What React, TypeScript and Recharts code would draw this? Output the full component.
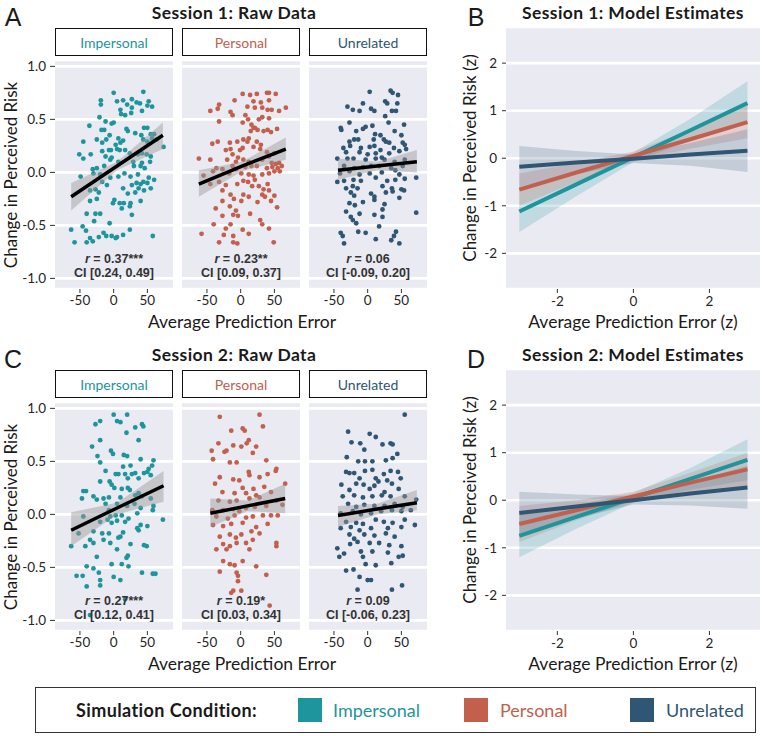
import React from 'react';
import { ComposedChart, Scatter, Line, Area, XAxis, YAxis, CartesianGrid } from 'recharts';

type Pt = [number, number];
type Fit = [number, number, number, number]; // x, y, lo, hi
type Est = [number, number, number]; // y, lo, hi

const CONDITIONS = ['Impersonal', 'Personal', 'Unrelated'];
const COLORS = ['#1e959c', '#c2604d', '#2f5673'];
const RAW_X_TICKS = [-50, 0, 50];
const RAW_Y_TICKS = [-1, -0.5, 0, 0.5, 1];
const Z_X_TICKS = [-2, 0, 2];
const Z_Y_TICKS = [-2, -1, 0, 1, 2];
const Z_X = [-3, -1.5, 0, 1.5, 3];

// session 1 raw data (prediction error, change in risk)
const s1Impersonal: Pt[] = [[0,0.75],[44,0.76],[27,0.69],[-19,0.68],[5,0.67],[14,0.68],[34,0.66],[39,0.65],[52,0.67],[-19,0.64],[20,0.64],[50,0.63],[57,0.62],[27,0.61],[10,0.59],[-21,0.52],[42,0.58],[11,0.55],[-12,0.48],[0,0.47],[-3,0.46],[26,0.56],[17,0.54],[-36,0.44],[-14,0.4],[19,0.41],[21,0.39],[-6,0.35],[7,0.32],[-18,0.4],[45,0.42],[50,0.42],[41,0.35],[55,0.36],[60,0.36],[32,0.37],[-25,0.31],[-11,0.31],[-45,0.29],[-17,0.28],[14,0.3],[3,0.26],[10,0.28],[44,0.31],[50,0.29],[57,0.32],[64,0.31],[74,0.24],[-51,0.17],[-45,0.13],[-34,0.17],[-17,0.2],[-7,0.21],[-4,0.21],[9,0.21],[5,0.22],[-12,0.15],[-3,0.14],[17,0.21],[24,0.18],[36,0.17],[42,0.18],[49,0.17],[55,0.15],[54,0.1],[-5,0.12],[7,0.1],[-25,0.04],[-31,0.03],[-14,0.06],[29,0.1],[30,0.06],[40,0.06],[42,0.09],[46,0.04],[-49,-0.04],[-30,-0.01],[-20,-0.02],[-5,-0.05],[7,-0.04],[16,-0.01],[25,-0.04],[36,-0.02],[52,-0.05],[60,-0.07],[-17,-0.09],[-10,-0.12],[27,-0.12],[34,-0.1],[40,-0.11],[44,-0.09],[50,-0.1],[14,-0.15],[-35,-0.17],[-27,-0.16],[-22,-0.19],[37,-0.15],[45,-0.17],[55,-0.15],[21,-0.2],[32,-0.19],[-35,-0.27],[-25,-0.25],[1,-0.26],[-1,-0.29],[9,-0.29],[15,-0.29],[25,-0.29],[12,-0.34],[24,-0.32],[40,-0.27],[-40,-0.39],[-27,-0.39],[-20,-0.39],[27,-0.4],[-29,-0.46],[-6,-0.48],[-46,-0.51],[-41,-0.55],[-63,-0.54],[24,-0.54],[-15,-0.57],[-11,-0.6],[-3,-0.6],[5,-0.61],[14,-0.59],[-22,-0.61],[-35,-0.62],[-31,-0.65],[-40,-0.66],[-58,-0.66],[58,-0.6],[3,-0.62]];
const s1Personal: Pt[] = [[3,0.74],[14,0.73],[24,0.74],[39,0.75],[42,0.75],[52,0.74],[-9,0.68],[19,0.67],[30,0.66],[42,0.68],[-32,0.64],[-45,0.58],[-34,0.6],[-15,0.57],[10,0.62],[21,0.61],[32,0.61],[40,0.59],[46,0.59],[67,0.61],[57,0.58],[-12,0.54],[7,0.54],[11,0.5],[27,0.5],[-32,0.48],[3,0.47],[32,0.52],[42,0.51],[16,0.45],[21,0.42],[25,0.4],[15,0.39],[19,0.42],[54,0.41],[12,0.32],[34,0.39],[40,0.4],[45,0.38],[-42,0.27],[-34,0.29],[-16,0.28],[-5,0.29],[4,0.31],[10,0.29],[24,0.29],[30,0.26],[-22,0.21],[-15,0.22],[-1,0.21],[3,0.23],[-12,0.17],[-4,0.14],[19,0.24],[29,0.22],[39,0.19],[42,0.15],[50,0.18],[-62,0.13],[-45,0.12],[-20,0.12],[-7,0.1],[4,0.12],[12,0.1],[32,0.12],[46,0.09],[52,0.08],[57,0.09],[61,0.06],[-36,0.04],[-27,0.03],[-12,0.06],[7,0.05],[16,0.06],[24,0.06],[39,0.04],[47,0.05],[55,0.04],[-55,-0.03],[-41,0.01],[-7,0.03],[-17,-0.01],[1,-0.01],[12,-0.02],[19,-0.03],[32,-0.02],[42,-0.01],[50,0.01],[58,0.01],[21,-0.07],[4,-0.08],[11,-0.09],[-45,-0.11],[-32,-0.09],[-22,-0.12],[-5,-0.11],[17,-0.13],[27,-0.13],[40,-0.11],[-27,-0.17],[34,-0.16],[32,-0.21],[42,-0.17],[-15,-0.21],[4,-0.21],[-10,-0.25],[12,-0.23],[36,-0.23],[50,-0.22],[-27,-0.27],[-16,-0.32],[1,-0.27],[25,-0.28],[45,-0.27],[-37,-0.34],[-7,-0.36],[54,-0.33],[-27,-0.41],[-11,-0.4],[-4,-0.41],[14,-0.39],[29,-0.45],[-40,-0.49],[-15,-0.49],[32,-0.49],[-22,-0.53],[3,-0.54],[42,-0.53],[-58,-0.58],[-25,-0.59],[-11,-0.6],[12,-0.58],[-32,-0.66],[-11,-0.66],[-5,-0.67],[49,-0.66]];
const s1Unrelated: Pt[] = [[3,0.76],[34,0.77],[37,0.75],[45,0.73],[-7,0.65],[26,0.67],[29,0.65],[-30,0.62],[-22,0.59],[-12,0.58],[5,0.6],[10,0.58],[44,0.65],[36,0.58],[42,0.58],[26,0.53],[-27,0.47],[-3,0.43],[7,0.44],[31,0.47],[54,0.45],[-40,0.42],[-39,0.4],[-17,0.39],[-7,0.41],[11,0.36],[19,0.35],[40,0.39],[50,0.35],[-20,0.31],[-14,0.31],[9,0.31],[24,0.31],[27,0.29],[32,0.28],[-27,0.29],[-36,0.23],[-26,0.25],[-10,0.23],[3,0.24],[10,0.25],[19,0.21],[39,0.23],[52,0.28],[55,0.26],[57,0.22],[-32,0.19],[-12,0.19],[0,0.17],[12,0.18],[32,0.18],[47,0.2],[-45,0.13],[-30,0.13],[-21,0.13],[-3,0.12],[12,0.13],[21,0.14],[25,0.12],[40,0.1],[55,0.12],[-35,0.06],[-20,0.04],[-7,0.05],[5,0.06],[17,0.06],[35,0.04],[52,0.06],[-41,-0.01],[-27,0.01],[-12,-0.02],[3,-0.01],[21,0],[41,0.02],[47,-0.02],[-45,-0.09],[-35,-0.08],[-21,-0.07],[-10,-0.08],[12,-0.05],[29,-0.08],[41,-0.07],[55,-0.06],[72,-0.05],[-32,-0.15],[-22,-0.13],[-15,-0.15],[22,-0.13],[36,-0.15],[50,-0.16],[-25,-0.19],[-20,-0.22],[5,-0.2],[10,-0.23],[27,-0.19],[37,-0.18],[54,-0.17],[-27,-0.29],[-19,-0.31],[-7,-0.28],[10,-0.26],[25,-0.3],[47,-0.24],[-32,-0.37],[-12,-0.39],[10,-0.4],[22,-0.35],[72,-0.38],[-22,-0.45],[-25,-0.42],[-17,-0.48],[22,-0.42],[17,-0.51],[-14,-0.56],[-40,-0.57],[-3,-0.57],[42,-0.56],[-35,-0.67],[-37,-0.6],[12,-0.63],[35,-0.64],[47,-0.67],[39,-0.6]];

// session 2 raw data
const s2Impersonal: Pt[] = [[0,0.94],[20,0.94],[-27,0.85],[-20,0.88],[5,0.88],[10,0.87],[42,0.85],[44,0.83],[32,0.82],[19,0.77],[-20,0.7],[37,0.7],[-32,0.64],[-4,0.6],[-1,0.57],[-24,0.55],[15,0.56],[20,0.55],[-20,0.49],[40,0.52],[59,0.51],[14,0.45],[25,0.46],[57,0.46],[52,0.43],[50,0.4],[-12,0.41],[3,0.38],[7,0.38],[17,0.38],[27,0.38],[32,0.39],[45,0.39],[21,0.34],[37,0.34],[55,0.37],[-20,0.31],[-6,0.31],[-41,0.22],[-45,0.22],[-3,0.28],[1,0.25],[12,0.24],[21,0.25],[24,0.23],[-30,0.17],[-25,0.14],[-15,0.15],[-7,0.16],[-47,0.15],[32,0.18],[37,0.2],[42,0.17],[10,0.16],[55,0.15],[59,0.08],[58,0.04],[-12,0.1],[5,0.1],[20,0.08],[31,0.1],[40,0.06],[-45,-0.02],[-7,0.04],[-5,-0.02],[3,-0.01],[12,-0.01],[22,-0.04],[35,0.01],[73,-0.05],[-20,-0.07],[-9,-0.05],[-3,-0.08],[5,-0.06],[17,-0.07],[40,-0.1],[50,-0.11],[-52,-0.18],[-30,-0.16],[-17,-0.18],[-7,-0.18],[10,-0.21],[14,-0.17],[35,-0.13],[37,-0.15],[-35,-0.24],[-30,-0.27],[-15,-0.24],[-5,-0.27],[7,-0.22],[-63,-0.3],[-42,-0.3],[25,-0.28],[45,-0.29],[49,-0.3],[5,-0.33],[19,-0.41],[21,-0.39],[-25,-0.4],[-40,-0.49],[-3,-0.47],[12,-0.47],[-55,-0.58],[-46,-0.58],[-30,-0.51],[-22,-0.55],[-20,-0.62],[0,-0.59],[22,-0.49],[42,-0.55],[58,-0.56],[62,-0.56],[-40,-0.68],[-20,-0.67],[10,-0.62],[17,-0.8],[-35,-0.95]];
const s2Personal: Pt[] = [[-31,0.92],[28,0.94],[-14,0.79],[3,0.81],[6,0.79],[33,0.83],[-33,0.67],[-11,0.65],[1,0.64],[12,0.7],[9,0.67],[23,0.64],[-43,0.6],[-21,0.6],[-24,0.59],[-41,0.52],[18,0.58],[38,0.51],[-16,0.49],[-6,0.49],[53,0.43],[52,0.41],[-31,0.35],[-11,0.33],[-2,0.32],[12,0.4],[13,0.37],[28,0.35],[40,0.38],[66,0.29],[-38,0.29],[3,0.25],[19,0.24],[35,0.26],[-27,0.21],[-9,0.2],[8,0.2],[23,0.18],[45,0.21],[-33,0.13],[-16,0.12],[-6,0.13],[13,0.15],[28,0.16],[53,0.13],[62,0.09],[-42,0.04],[-26,0.04],[-11,0.05],[-2,0.03],[8,0.06],[21,0.07],[38,0.08],[55,-0.01],[-36,-0.02],[-19,-0.04],[-9,-0.01],[8,-0.03],[18,-0.02],[33,-0.01],[45,-0.01],[-41,-0.1],[-26,-0.11],[-14,-0.09],[3,-0.08],[23,-0.12],[40,-0.09],[16,-0.16],[-16,-0.19],[-31,-0.21],[-7,-0.22],[1,-0.19],[28,-0.18],[-26,-0.28],[-16,-0.3],[-6,-0.27],[8,-0.27],[18,-0.24],[53,-0.27],[53,-0.3],[-36,-0.33],[-21,-0.33],[13,-0.33],[-26,-0.44],[-16,-0.47],[-9,-0.48],[3,-0.44],[23,-0.49],[-31,-0.54],[-6,-0.55],[-4,-0.58],[38,-0.57],[-4,-0.63],[-11,-0.72],[-14,-0.74],[1,-0.72],[43,-0.86]];
const s2Unrelated: Pt[] = [[55,0.94],[-29,0.78],[3,0.76],[12,0.73],[-24,0.68],[-11,0.67],[-5,0.61],[22,0.66],[34,0.67],[37,0.66],[44,0.57],[-31,0.54],[-14,0.5],[-4,0.5],[7,0.5],[27,0.51],[37,0.53],[-32,0.4],[-27,0.39],[-20,0.39],[-4,0.41],[7,0.42],[24,0.38],[34,0.41],[45,0.4],[-12,0.34],[12,0.34],[29,0.32],[49,0.34],[-39,0.28],[-17,0.29],[-6,0.28],[10,0.27],[16,0.31],[36,0.29],[-27,0.23],[3,0.24],[25,0.21],[46,0.24],[-37,0.17],[-20,0.18],[-7,0.16],[7,0.17],[21,0.18],[34,0.17],[55,0.17],[72,0.14],[-29,0.1],[-17,0.07],[-5,0.09],[10,0.08],[25,0.08],[40,0.1],[52,0.07],[-40,0.01],[-22,0.03],[-10,0],[5,0.01],[20,0.03],[36,0.04],[50,0.03],[64,0.04],[-32,-0.07],[-17,-0.08],[-7,-0.09],[12,-0.05],[24,-0.07],[37,-0.08],[55,-0.05],[70,-0.1],[-40,-0.13],[-25,-0.12],[-12,-0.15],[5,-0.13],[30,-0.13],[50,-0.12],[-27,-0.19],[-20,-0.23],[-5,-0.19],[10,-0.2],[27,-0.18],[40,-0.21],[-26,-0.28],[-15,-0.26],[3,-0.27],[17,-0.27],[32,-0.29],[50,-0.3],[-45,-0.32],[-35,-0.37],[-10,-0.35],[7,-0.35],[30,-0.36],[46,-0.4],[52,-0.39],[-42,-0.4],[-7,-0.4],[-3,-0.47],[12,-0.48],[35,-0.46],[-32,-0.53],[-21,-0.52],[-12,-0.59],[5,-0.62],[0,-0.62],[-15,-0.71],[36,-0.71],[51,-0.67]];

// linear fits with confidence band
const s1Fits: Fit[][] = [
  [[-63, -0.23, -0.36, -0.1], [5, 0.06, 0.02, 0.1], [73, 0.35, 0.22, 0.47]],
  [[-62, -0.11, -0.23, 0.02], [2, 0.06, 0.01, 0.1], [67, 0.22, 0.12, 0.33]],
  [[-44, 0.02, -0.07, 0.13], [14, 0.06, 0.02, 0.1], [73, 0.1, 0.0, 0.21]],
];
const s2Fits: Fit[][] = [
  [[-63, -0.15, -0.3, 0.02], [5, 0.06, 0.0, 0.11], [74, 0.27, 0.12, 0.41]],
  [[-45, 0.01, -0.12, 0.15], [10, 0.08, 0.03, 0.13], [66, 0.15, 0.01, 0.29]],
  [[-44, -0.01, -0.12, 0.08], [14, 0.05, 0.0, 0.1], [73, 0.11, 0.04, 0.23]],
];
const s1R = ['0.37***', '0.23**', '0.06'];
const s1CI = ['CI [0.24, 0.49]', 'CI [0.09, 0.37]', 'CI [-0.09, 0.20]'];
const s2R = ['0.27***', '0.19*', '0.09'];
const s2CI = ['CI [0.12, 0.41]', 'CI [0.03, 0.34]', 'CI [-0.06, 0.23]'];

// model estimates at Z_X
const s1Model: Est[][] = [
  [[-1.12, -1.55, -0.69], [-0.55, -0.8, -0.31], [0.02, -0.08, 0.12], [0.59, 0.36, 0.83], [1.16, 0.72, 1.62]],
  [[-0.66, -1.0, -0.32], [-0.3, -0.5, -0.1], [0.05, -0.04, 0.14], [0.4, 0.2, 0.6], [0.76, 0.42, 1.1]],
  [[-0.18, -0.62, 0.26], [-0.09, -0.33, 0.15], [-0.01, -0.1, 0.08], [0.08, -0.16, 0.32], [0.16, -0.29, 0.61]],
];
const s2Model: Est[][] = [
  [[-0.75, -1.2, -0.3], [-0.35, -0.6, -0.1], [0.05, -0.05, 0.15], [0.45, 0.22, 0.68], [0.85, 0.42, 1.28]],
  [[-0.5, -0.88, -0.12], [-0.21, -0.42, 0.0], [0.08, -0.02, 0.18], [0.37, 0.16, 0.58], [0.65, 0.3, 1.0]],
  [[-0.27, -0.72, 0.18], [-0.13, -0.38, 0.12], [0.0, -0.09, 0.09], [0.14, -0.11, 0.39], [0.27, -0.18, 0.72]],
];

const FONT = 'Lato, "Open Sans", sans-serif';
const SANS = '"Liberation Sans", Arial, sans-serif';
const BG = '#EAEAF2';
const PANEL_LEFT = [55, 182, 309];
const PANEL_W = 118;
const tickStyle = { fill: '#262626', fontSize: 13.5, fontFamily: FONT };

function Txt({ x, y, size, weight = 400, color = '#1a1a1a', rotate = false, anchor = 'middle', family = FONT, spacing = 0, children }: any) {
  const tx = anchor === 'start' ? '0' : '-50%';
  return (
    <div
      style={{
        position: 'absolute', left: x, top: y, fontSize: size, fontWeight: weight, color,
        fontFamily: family, whiteSpace: 'nowrap', lineHeight: 1, letterSpacing: spacing,
        transform: `translate(${tx},-50%)${rotate ? ' rotate(-90deg)' : ''}`,
      }}
    >
      {children}
    </div>
  );
}

function Facet({ idx, points, fit, top }: { idx: number; points: Pt[]; fit: Fit[]; top: number }) {
  const first = idx === 0;
  const yw = first ? 55 : 0;
  const data = fit.map(([x, y, lo, hi]) => ({ x, y, band: [lo, hi] }));
  const pts = points.map(([x, y]) => ({ x, y }));
  return (
    <div style={{ position: 'absolute', left: PANEL_LEFT[idx] - yw, top }}>
      <ComposedChart width={PANEL_W + yw} height={319} data={data} margin={{ top: 60, right: 0, bottom: 0, left: 0 }}>
        <CartesianGrid fill={BG} fillOpacity={1} stroke="#fff" strokeWidth={2.6} vertical={false} />
        <XAxis dataKey="x" type="number" domain={[-87, 88]} ticks={RAW_X_TICKS} allowDataOverflow height={30}
          axisLine={false} tickLine={{ stroke: '#333' }} tickSize={4} tickMargin={2} tick={tickStyle} />
        <YAxis type="number" domain={[-1.1, 1.06]} ticks={RAW_Y_TICKS} allowDataOverflow width={55} hide={!first}
          axisLine={false} tickLine={{ stroke: '#333' }} tickSize={5} tickMargin={4} tick={tickStyle}
          tickFormatter={(v: number) => v.toFixed(1)} />
        <Scatter data={pts} dataKey="y" isAnimationActive={false} zIndex={100}
          shape={(p: any) => <circle cx={p.cx} cy={p.cy} r={2.4} fill={COLORS[idx]} />} />
        <Area dataKey="band" type="linear" stroke="none" fill="#999" fillOpacity={0.45} isAnimationActive={false} zIndex={200} />
        <Line dataKey="y" type="linear" stroke="#000" strokeWidth={3.5} dot={false} isAnimationActive={false} zIndex={300} />
      </ComposedChart>
    </div>
  );
}

function RawRow({ top, letter, title, sets, fits, rs, cis }: any) {
  return (
    <>
      <Txt x={13} y={top + 17} size={25} family={SANS}>{letter}</Txt>
      <Txt x={234} y={top + 13} size={17.5} weight={700} spacing={0.4}>{title}</Txt>
      {CONDITIONS.map((c, i) => (
        <div key={c} style={{
          position: 'absolute', left: PANEL_LEFT[i], top: top + 28, width: PANEL_W, height: 28, boxSizing: 'border-box',
          border: '1.3px solid #111', background: '#fff', color: COLORS[i], fontFamily: FONT, fontSize: 14,
          display: 'flex', alignItems: 'center', justifyContent: 'center',
        }}>{c}</div>
      ))}
      {CONDITIONS.map((c, i) => (
        <Facet key={c} idx={i} points={sets[i]} fit={fits[i]} top={top} />
      ))}
      {CONDITIONS.map((c, i) => (
        <React.Fragment key={c}>
          <Txt x={PANEL_LEFT[i] + 59} y={top + 259} size={12.5} weight={700} color="#333" family={SANS}>
            <i>r</i> = {rs[i]}
          </Txt>
          <Txt x={PANEL_LEFT[i] + 59} y={top + 273} size={12.5} weight={700} color="#333" family={SANS}>
            {cis[i]}
          </Txt>
        </React.Fragment>
      ))}
      <Txt x={10} y={top + 175} size={17} rotate>Change in Perceived Risk</Txt>
      <Txt x={242} y={top + 322} size={17.5}>Average Prediction Error</Txt>
    </>
  );
}

function ModelPanel({ top, letter, title, model }: { top: number; letter: string; title: string; model: Est[][] }) {
  const data = Z_X.map((x, i) => {
    const row: any = { x };
    model.forEach((m, c) => {
      row['c' + c] = m[i][0];
      row['b' + c] = [m[i][1], m[i][2]];
    });
    return row;
  });
  return (
    <>
      <Txt x={476} y={top + 17} size={25} family={SANS}>{letter}</Txt>
      <Txt x={633} y={top + 13} size={17.5} weight={700} spacing={0.4}>{title}</Txt>
      <div style={{ position: 'absolute', left: 440, top }}>
        <ComposedChart width={322} height={319} data={data} margin={{ top: 27, right: 2, bottom: 0, left: 0 }}>
          <CartesianGrid fill={BG} fillOpacity={1} stroke="#fff" strokeWidth={2.6} vertical={false} />
          <XAxis dataKey="x" type="number" domain={[-3.35, 3.33]} ticks={Z_X_TICKS} allowDataOverflow height={30}
            axisLine={false} tickLine={{ stroke: '#333' }} tickSize={4} tickMargin={3} tick={tickStyle} />
          <YAxis type="number" domain={[-2.75, 2.76]} ticks={Z_Y_TICKS} allowDataOverflow width={66}
            axisLine={false} tickLine={{ stroke: '#333' }} tickSize={4} tickMargin={5} tick={tickStyle} />
          {CONDITIONS.map((c, i) => (
            <Area key={'b' + c} dataKey={'b' + i} type="linear" stroke="none" fill={COLORS[i]} fillOpacity={0.2}
              isAnimationActive={false} zIndex={100} />
          ))}
          {CONDITIONS.map((c, i) => (
            <Line key={'l' + c} dataKey={'c' + i} type="linear" stroke={COLORS[i]} strokeWidth={4} dot={false}
              isAnimationActive={false} zIndex={300} />
          ))}
        </ComposedChart>
      </div>
      <Txt x={469} y={top + 158} size={17} rotate>Change in Perceived Risk (z)</Txt>
      <Txt x={633} y={top + 322} size={17.5}>Average Prediction Error (z)</Txt>
    </>
  );
}

function Legend() {
  const sw = [297, 463, 629];
  const lab = [332, 499, 665];
  return (
    <div style={{ position: 'absolute', left: 35, top: 687, width: 721, height: 46, boxSizing: 'border-box', border: '1.5px solid #333' }}>
      <Txt x={40} y={22} size={18} weight={700} spacing={0.4} anchor="start">Simulation Condition:</Txt>
      {CONDITIONS.map((c, i) => (
        <React.Fragment key={c}>
          <div style={{ position: 'absolute', left: sw[i] - 35, top: 10, width: 24, height: 24, background: COLORS[i] }} />
          <Txt x={lab[i] - 35} y={22} size={18} color={COLORS[i]} anchor="start">{c}</Txt>
        </React.Fragment>
      ))}
    </div>
  );
}

export default function App() {
  return (
    <div style={{ position: 'absolute', left: 0, top: 0, width: 762, height: 736, background: '#fff', overflow: 'hidden', fontFamily: FONT }}>
      <RawRow top={0} letter="A" title="Session 1: Raw Data" sets={[s1Impersonal, s1Personal, s1Unrelated]} fits={s1Fits} rs={s1R} cis={s1CI} />
      <ModelPanel top={0} letter="B" title="Session 1: Model Estimates" model={s1Model} />
      <RawRow top={342} letter="C" title="Session 2: Raw Data" sets={[s2Impersonal, s2Personal, s2Unrelated]} fits={s2Fits} rs={s2R} cis={s2CI} />
      <ModelPanel top={342} letter="D" title="Session 2: Model Estimates" model={s2Model} />
      <Legend />
    </div>
  );
}
